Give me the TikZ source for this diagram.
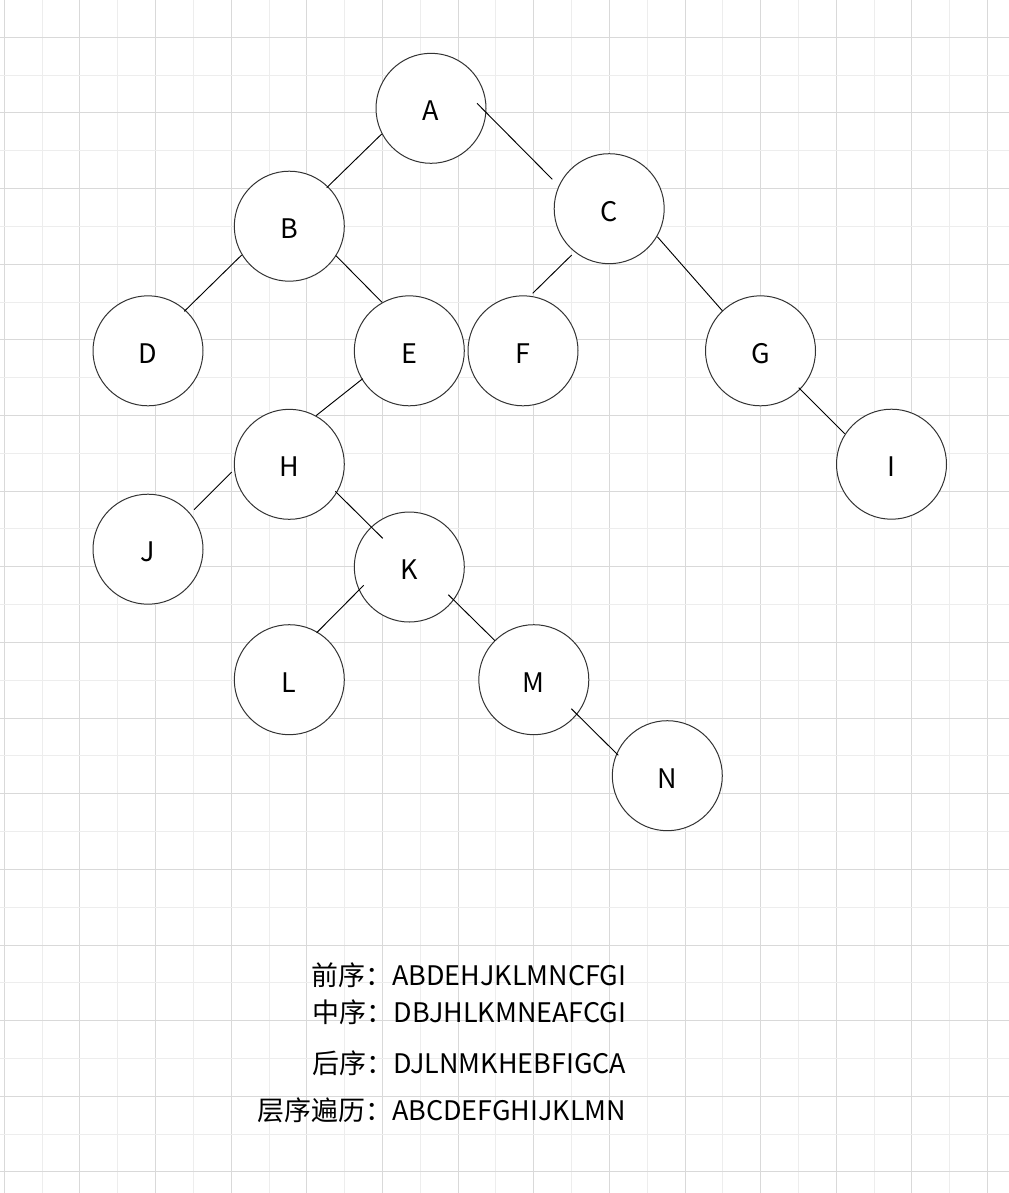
\documentclass[tikz,border=0pt]{standalone}
\usepackage{fontspec}
\setmainfont{Noto Sans CJK SC}
\definecolor{gridmajor}{HTML}{D9D9D9}
\definecolor{gridminor}{HTML}{EDEDED}
\begin{document}
\begin{tikzpicture}[x=0.75pt,y=-0.75pt,
  tnode/.style={circle, draw=black!80, fill=white, line width=0.75pt, minimum size=82.5pt, inner sep=0pt,
    font=\fontsize{20.2pt}{24pt}\selectfont, text height=18.5pt, text depth=0pt},
  tedge/.style={draw=black, line width=0.7pt},
  gridline/.style={line width=0.75pt},
  seq/.style={anchor=base east, inner sep=0pt, font=\fontsize{20.2pt}{24pt}\selectfont, text=black}]
\useasboundingbox (0,0) rectangle (1009,1193);
\fill[white] (0,0) rectangle (1009,1193);
% grid
\foreach \k in {0,...,26}{
  \pgfmathsetmacro{\xx}{4.3+37.82*\k}
  \ifodd\k\def\gc{gridminor}\else\def\gc{gridmajor}\fi
  \draw[gridline,\gc] (\xx,0) -- (\xx,1193);
}
\foreach \k in {1,...,31}{
  \pgfmathsetmacro{\yy}{-0.5+37.82*\k}
  \ifodd\k\def\gc{gridmajor}\else\def\gc{gridminor}\fi
  \draw[gridline,\gc] (0,\yy) -- (1009,\yy);
}
% nodes
\node[tnode] (A) at (431,108.3) {A};
\node[tnode] (B) at (289.3,226.2) {B};
\node[tnode] (C) at (609.2,208.7) {C};
\node[tnode] (D) at (148,350.8) {D};
\node[tnode] (E) at (409.3,350.8) {E};
\node[tnode] (F) at (523,350.8) {F};
\node[tnode] (G) at (760.5,350.8) {G};
\node[tnode] (H) at (289.3,464.3) {H};
\node[tnode] (I) at (891.5,464.2) {I};
\node[tnode] (J) at (148,549.2) {J};
\node[tnode] (K) at (409.3,567) {K};
\node[tnode] (L) at (289.3,679.7) {L};
\node[tnode] (M) at (533.8,679.7) {M};
\node[tnode] (N) at (667.3,775.7) {N};
% edges
\draw[tedge] ([shift={(-49.3,25.7)}]A.center) -- ([shift={(37.4,-38.5)}]B.center);
\draw[tedge] ([shift={(46,-5)}]A.center) -- ([shift={(-56.9,-29.4)}]C.center);
\draw[tedge] ([shift={(-47.6,28.8)}]B.center) -- ([shift={(36.3,-39.5)}]D.center);
\draw[tedge] ([shift={(46.7,29.5)}]B.center) -- ([shift={(-27.3,-48.5)}]E.center);
\draw[tedge] ([shift={(-37.5,46.3)}]C.center) -- ([shift={(9.7,-57.5)}]F.center);
\draw[tedge] ([shift={(48.1,28)}]C.center) -- ([shift={(-38.2,-40.1)}]G.center);
\draw[tedge] ([shift={(-46.6,27.9)}]E.center) -- ([shift={(26.7,-48.6)}]H.center);
\draw[tedge] ([shift={(38.2,36.9)}]G.center) -- ([shift={(-46.8,-30.5)}]I.center);
\draw[tedge] ([shift={(-57.6,7.7)}]H.center) -- ([shift={(46,-39.5)}]J.center);
\draw[tedge] ([shift={(46,27)}]H.center) -- ([shift={(-26.6,-28.7)}]K.center);
\draw[tedge] ([shift={(-45.6,18.3)}]K.center) -- ([shift={(27.4,-47)}]L.center);
\draw[tedge] ([shift={(39,27.7)}]K.center) -- ([shift={(-38.8,-39)}]M.center);
\draw[tedge] ([shift={(37.5,29)}]M.center) -- ([shift={(-49,-20.4)}]N.center);
% traversal texts
\node[seq] (pre) at (626.5,985) {前序：ABDEHJKLMNCFGI};
\node[seq] (ino) at (626.5,1022.3) {中序：DBJHLKMNEAFCGI};
\node[seq] (post) at (626.5,1073.3) {后序：DJLNMKHEBFIGCA};
\node[seq] (lvl) at (626.5,1120) {层序遍历：ABCDEFGHIJKLMN};
\end{tikzpicture}
\end{document}
